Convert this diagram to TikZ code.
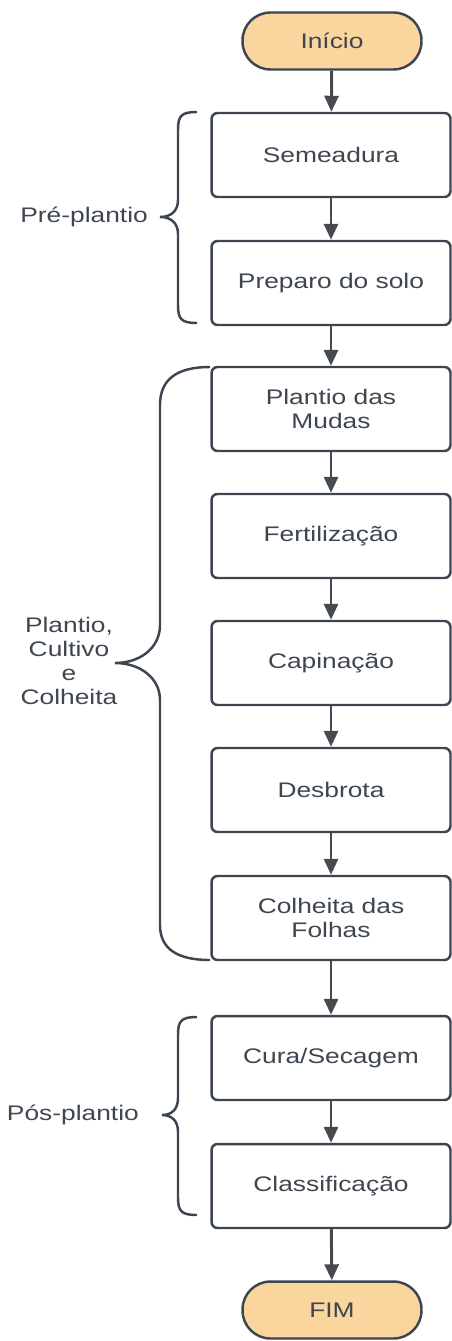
\documentclass[tikz,border=0pt]{standalone}
\usepackage{fontspec}
\setmainfont{Liberation Sans}[FakeStretch=1.25]
\usetikzlibrary{arrows.meta}

\definecolor{termfill}{HTML}{FBD59E}
\definecolor{linegray}{HTML}{3C4550}
\definecolor{textgray}{HTML}{3E4650}
\definecolor{arrowgray}{HTML}{474A4E}

\tikzset{
  box/.style={draw=linegray, line width=1.4pt, rounded corners=1.2mm, fill=white,
    minimum width=4.78cm, minimum height=1.68cm, align=center, text=textgray,
    font=\fontsize{12}{14}\selectfont},
  term/.style={box, fill=termfill, minimum width=3.58cm, minimum height=1.14cm,
    rounded corners=5.6mm},
  arrow/.style={draw=arrowgray, line width=1.7pt, -{Triangle[length=3.2mm,width=2.8mm]}},
  brace/.style={draw=linegray, line width=1.4pt},
  side/.style={text=textgray, align=center, font=\fontsize{12}{13.7}\selectfont}
}

\begin{document}
\begin{tikzpicture}[x=0.02cm, y=-0.02cm]

      \useasboundingbox (0,0) rectangle (451,1341);

      \begin{scope}[every node/.style={term}]
        \node (1)  at (332,41)   {Início};
        \node (11) at (332,1310) {FIM};
      \end{scope}

      \begin{scope}[every node/.style={box}]
        \node (2)  at (331,155)  {Semeadura};
        \node (3)  at (331,283)  {Preparo do solo};
        \node (4)  at (331,409)  {Plantio das\\Mudas};
        \node (5)  at (331,536)  {Fertilização};
        \node (6)  at (331,663)  {Capinação};
        \node (7)  at (331,790)  {Desbrota};
        \node (8)  at (331,918)  {Colheita das\\Folhas};
        \node (9)  at (331,1058) {Cura/Secagem};
        \node (10) at (331,1186) {Classificação};
      \end{scope}

      \begin{scope}[every edge/.style={arrow}]
        \path (1)  edge (2);
        \path (2)  edge (3);
        \path (3)  edge (4);
        \path (4)  edge (5);
        \path (5)  edge (6);
        \path (6)  edge (7);
        \path (7)  edge (8);
        \path (8)  edge (9);
        \path (9)  edge (10);
        \path (10) edge (11);
      \end{scope}

      % braces
      \draw[brace] (197,112) .. controls (181,112) and (178,116) .. (178,130)
        -- (178,200) .. controls (178,211) and (171,217) .. (160,217)
        .. controls (171,217) and (178,223) .. (178,234)
        -- (178,305) .. controls (178,319) and (181,323) .. (197,323);
      \draw[brace] (210,367) .. controls (176,367) and (160,380) .. (160,405)
        -- (160,625) .. controls (160,648) and (140,663) .. (115,663)
        .. controls (140,663) and (160,678) .. (160,700)
        -- (160,925) .. controls (160,948) and (176,960) .. (210,960);
      \draw[brace] (197,1017) .. controls (181,1017) and (178,1021) .. (178,1035)
        -- (178,1098) .. controls (178,1109) and (172,1115) .. (162,1115)
        .. controls (172,1115) and (178,1121) .. (178,1132)
        -- (178,1197) .. controls (178,1211) and (181,1215) .. (197,1215);

      \begin{scope}[every node/.style={side}]
        \node[anchor=east] (pre) at (154,217)  {Pré-plantio};
        \node (mid)              at (69,661)   {Plantio,\\Cultivo\\e\\Colheita};
        \node[anchor=east] (pos) at (145,1115) {Pós-plantio};
      \end{scope}

    \end{tikzpicture}
\end{document}
